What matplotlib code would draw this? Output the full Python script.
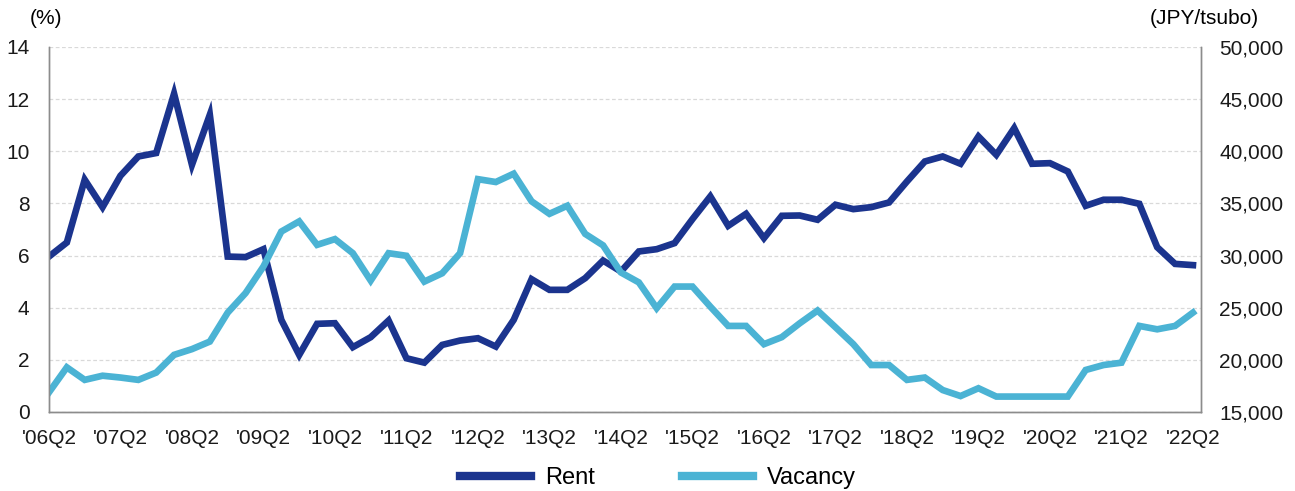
import matplotlib
matplotlib.use('Agg')
import matplotlib.pyplot as plt
from matplotlib.ticker import FuncFormatter

# quarterly data, '06Q2 .. '22Q2
years = list(range(6, 23))
tick_labels = ["'%02dQ2" % y for y in years]

rent = [29900, 31250, 37270, 34640, 37650, 39500, 39830, 45520, 38700, 43500,
        29900, 29850, 30610, 23830, 20470, 23450, 23510, 21210, 22170, 23770,
        20150, 19730, 21430, 21850, 22070, 21270, 23830, 27730, 26710, 26710,
        27830, 29520, 28470, 30390, 30610, 31190, 33490, 35670, 32850, 34000,
        31670, 33810, 33840, 33430, 34870, 34450, 34640, 35090, 37100, 39020,
        39500, 38800, 41420, 39660, 42220, 38800, 38860, 38060, 34770, 35350,
        35350, 34960, 30800, 29200, 29080]

vacancy = [0.75, 1.71, 1.23, 1.39, 1.32, 1.23, 1.51, 2.19, 2.41, 2.70,
           3.81, 4.56, 5.58, 6.92, 7.31, 6.41, 6.63, 6.09, 5.04, 6.09,
           5.99, 5.00, 5.32, 6.09, 8.93, 8.82, 9.14, 8.08, 7.60, 7.91,
           6.83, 6.39, 5.35, 4.97, 3.98, 4.81, 4.81, 4.04, 3.30, 3.30,
           2.60, 2.87, 3.40, 3.89, 3.25, 2.60, 1.80, 1.80, 1.23, 1.32,
           0.84, 0.61, 0.91, 0.59, 0.59, 0.59, 0.59, 0.59, 1.61, 1.80,
           1.89, 3.30, 3.17, 3.30, 3.81]

RENT_COLOR = '#1B348E'
VAC_COLOR = '#4BB3D4'
GRID_COLOR = '#D9D9D9'
SPINE_COLOR = '#8C8C8C'

plt.rcParams['font.family'] = ['Liberation Sans', 'DejaVu Sans']
plt.rcParams['font.size'] = 15

fig = plt.figure(figsize=(12.95, 4.91), dpi=100)
ax = fig.add_axes([0.0378, 0.161, 0.8896, 0.7433])
ax2 = ax.twinx()

x = list(range(len(rent)))
ax2.plot(x, rent, color=RENT_COLOR, linewidth=4.8, solid_joinstyle='miter', label='Rent')
ax.plot(x, vacancy, color=VAC_COLOR, linewidth=4.8, solid_joinstyle='miter', label='Vacancy')

# vacancy drawn above rent
ax.set_zorder(ax2.get_zorder() + 1)
ax.patch.set_visible(False)

ax.set_xlim(0, 64.45)
ax.set_ylim(0, 14)
ax.set_yticks(range(0, 15, 2))
ax2.set_ylim(15000, 50000)
ax2.set_yticks(range(15000, 50001, 5000))
ax2.yaxis.set_major_formatter(FuncFormatter(lambda v, p: f'{int(v):,}'))

ax.set_xticks(range(0, 65, 4))
ax.set_xticklabels(tick_labels)

# grid: dashed horizontal, solid vertical, drawn on the back axes
ax2.set_axisbelow(True)
ax2.grid(True, axis='y', color=GRID_COLOR, linestyle=(0, (3, 2)), linewidth=0.9)
ax2.set_xticks(range(0, 65, 4))
ax2.grid(True, axis='x', color=GRID_COLOR, linestyle='-', linewidth=1.0)

for a in (ax, ax2):
    a.tick_params(length=0, colors='#1a1a1a')
    for s in a.spines.values():
        s.set_color(SPINE_COLOR)
        s.set_linewidth(1.0)
    a.spines['top'].set_visible(False)
ax.tick_params(axis='y', pad=14)
ax.tick_params(axis='x', pad=12)
ax2.tick_params(axis='y', pad=13)

fig.text(0.0355, 0.963, '(%)', ha='center', va='center', fontsize=15)
fig.text(0.972, 0.963, '(JPY/tsubo)', ha='right', va='center', fontsize=15)

h1, l1 = ax2.get_legend_handles_labels()
h2, l2 = ax.get_legend_handles_labels()
leg = fig.legend(h1 + h2, l1 + l2, loc='center', bbox_to_anchor=(0.508, 0.026),
                 ncol=2, frameon=False, fontsize=17, handlelength=3.0,
                 handletextpad=0.6, columnspacing=3.7)
for line in leg.get_lines():
    line.set_linewidth(6)

fig.savefig('out.png', dpi=100)
